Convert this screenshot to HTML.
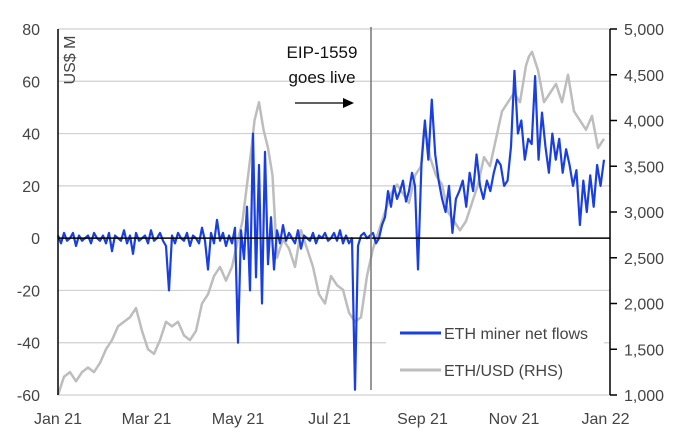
<!DOCTYPE html>
<html><head><meta charset="utf-8"><style>
html,body{margin:0;padding:0;background:#fff;}
svg{display:block;font-family:"Liberation Sans",sans-serif;}
</style></head><body>
<svg id="chart" width="675" height="439" viewBox="0 0 675 439">
<g id="grid"></g>
<g id="price"></g>
<g id="flows"></g>
<g id="axes"></g>
<line x1="371" y1="27" x2="371" y2="390" stroke="#777" stroke-width="1.5"/>
<text x="75" y="60" transform="rotate(-90 75 60)" text-anchor="middle" font-size="16" fill="#444">US$ M</text>
<text x="322" y="58" text-anchor="middle" font-size="17" fill="#111">EIP-1559</text>
<text x="322" y="83" text-anchor="middle" font-size="17" fill="#111">goes live</text>
<line x1="295" y1="103" x2="345" y2="103" stroke="#000" stroke-width="1.3"/>
<polygon points="343,98 354,103 343,108" fill="#000"/>
<g>
<rect x="386" y="314" width="218" height="72" fill="#fff"/>
<line x1="400" y1="333" x2="441" y2="333" stroke="#1a3fe0" stroke-width="3"/>
<text x="444" y="339" font-size="16" fill="#444">ETH  miner net flows</text>
<line x1="400" y1="370" x2="441" y2="370" stroke="#bdbdbd" stroke-width="3"/>
<text x="444" y="376" font-size="16" fill="#444">ETH/USD (RHS)</text>
</g>
</svg>
<script>
const leftTicks=[80,60,40,20,0,-20,-40,-60];
const rightTicks=[5000,4500,4000,3500,3000,2500,2000,1500,1000];
const rightTickLabels=["5,000","4,500","4,000","3,500","3,000","2,500","2,000","1,500","1,000"];
const monthLabels=["Jan 21","Mar 21","May 21","Jul 21","Sep 21","Nov 21","Jan 22"];
const monthDays=[0,59,120,181,243,304,365];
const priceDays=[0,4,8,12,16,20,24,28,32,36,40,44,48,52,56,60,64,68,72,76,80,84,88,92,96,100,104,108,112,116,120,123,126,129,131,134,137,140,143,146,150,154,158,162,166,170,174,178,182,186,190,194,198,202,206,210,214,218,222,226,230,234,238,242,244,246,248,252,256,260,264,268,272,276,280,284,288,292,296,300,304,308,312,314,316,320,324,328,332,336,340,344,348,352,356,360,364];
const priceValues=[1000,1200,1250,1150,1250,1300,1250,1350,1500,1600,1750,1800,1850,1950,1700,1500,1450,1600,1800,1750,1800,1650,1600,1700,2000,2100,2300,2400,2250,2400,2700,2900,3300,3700,4000,4200,3900,3700,3400,2500,2700,2600,2400,2800,2600,2400,2100,2000,2300,2200,2150,1900,1800,1850,2300,2600,2800,3000,3200,3300,3200,3100,3400,3500,3900,3800,3600,3400,3300,3000,2900,2800,2900,3100,3300,3600,3500,3800,4100,4200,4300,4200,4600,4700,4750,4550,4200,4300,4400,4200,4500,4100,4000,3900,4050,3700,3800];
const flowValues=[1,-2,2,-1,0,2,-3,1,-1,0,1,-2,2,0,-1,1,-2,2,-5,1,0,-1,3,-2,1,-6,2,-1,0,1,-2,3,-1,0,2,-1,-3,-20,1,-2,2,0,-1,2,-3,1,0,-2,4,-1,-12,2,-2,7,-1,2,-3,1,-2,4,-40,3,-8,12,-20,40,-15,28,-25,33,-10,8,-12,3,-2,5,-1,2,0,-2,3,-4,1,0,-1,2,-2,1,0,2,-1,0,2,-1,3,-2,1,-2,0,-58,-3,1,2,0,1,2,-2,0,5,8,18,12,20,15,18,22,14,18,25,20,-12,28,45,30,53,32,22,15,10,20,2,15,18,22,12,25,18,32,20,15,22,18,25,30,28,20,22,35,64,40,45,30,38,36,62,30,48,35,25,40,30,38,25,34,28,20,26,5,22,10,24,12,28,20,30];
const flowDays=[];
const SPLIT=120;
for(let i=0;i<flowValues.length;i++){
  flowDays.push(i<=SPLIT ? 2*i : 240+(i-SPLIT)*124/(flowValues.length-1-SPLIT));
}
const X0=58,DAYPX=1.5,YTOP=29,YBOT=395;
const xs=d=>X0+d*DAYPX;
const yL=v=>YTOP+(80-v)*(YBOT-YTOP)/140;
const yR=v=>YTOP+(5000-v)*(YBOT-YTOP)/4000;
const NS="http://www.w3.org/2000/svg";
function mk(tag,attrs,parent){const e=document.createElementNS(NS,tag);for(const k in attrs)e.setAttribute(k,attrs[k]);parent.appendChild(e);return e;}
const grid=document.getElementById('grid'),axes=document.getElementById('axes');
leftTicks.forEach(v=>{
  if(v!==0){const g=mk('line',{x1:X0,x2:610,y1:yL(v),y2:yL(v),stroke:'#d0d0d0','stroke-width':1.2},grid);
  
  }
  const t=mk('text',{x:40,y:yL(v)+6,'text-anchor':'end','font-size':16,fill:'#444'},axes);t.textContent=String(v);
  
  
});
rightTicks.forEach((v,i)=>{
  const tk=mk('line',{x1:610,x2:617,y1:yR(v),y2:yR(v),stroke:'#000','stroke-width':1.5},axes);
  
  
  const t=mk('text',{x:624,y:yR(v)+6,'font-size':16,fill:'#444'},axes);t.textContent=rightTickLabels[i];
  
  
});
monthLabels.forEach((m,i)=>{
  const t=mk('text',{x:xs(monthDays[i]),y:424,'text-anchor':'middle','font-size':16,fill:'#444'},axes);t.textContent=m;
  
  
});
const la=mk('line',{x1:X0,x2:X0,y1:YTOP,y2:YBOT,stroke:'#000','stroke-width':1.5},axes);


const ra=mk('line',{x1:610,x2:610,y1:YTOP,y2:YBOT,stroke:'#000','stroke-width':1.5},axes);


const zl=mk('line',{x1:X0,x2:610,y1:yL(0),y2:yL(0),stroke:'#000','stroke-width':1.5},axes);


const pp=mk('polyline',{points:priceDays.map((d,i)=>xs(d)+','+yR(priceValues[i])).join(' '),fill:'none',stroke:'#bdbdbd','stroke-width':2.5,'stroke-linejoin':'round'},document.getElementById('price'));


const fp=mk('polyline',{points:flowDays.map((d,i)=>xs(d)+','+yL(flowValues[i])).join(' '),fill:'none',stroke:'#1a3fe0','stroke-width':2.2,'stroke-linejoin':'round'},document.getElementById('flows'));


</script>
</body></html>
